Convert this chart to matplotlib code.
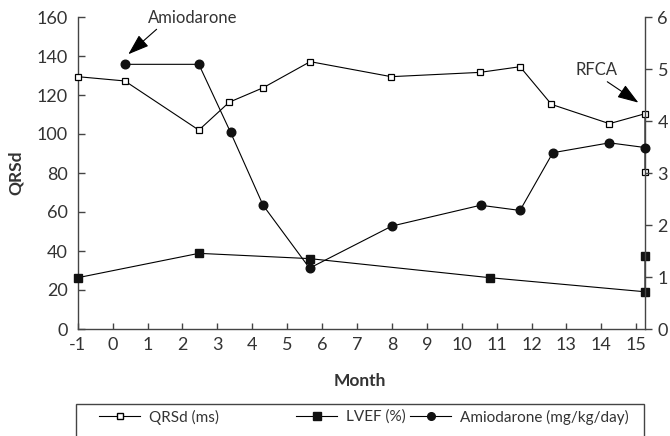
import matplotlib
matplotlib.use("Agg")
import matplotlib.pyplot as plt
from matplotlib.lines import Line2D
from matplotlib.patches import Rectangle

plt.rcParams['font.family'] = ['Lato', 'DejaVu Sans']
plt.rcParams['axes.unicode_minus'] = False

# ---- data ----
qrs_month = [-1, 0.35, 2.47, 3.34, 4.31, 5.66, 7.98, 10.52, 11.67, 12.57, 14.23, 15.25, 15.25]
qrs_val = [129.4, 127.2, 102, 116.3, 123.7, 137.1, 129.4, 131.6, 134.5, 115.2, 105.3, 110.4, 80.7]

lvef_month = [-1, 2.47, 5.64, 10.81, 15.25, 15.25]
lvef_val = [26.3, 38.8, 36.1, 26.3, 19.1, 37.4]

amio_month = [0.35, 2.47, 3.38, 4.31, 5.64, 8.0, 10.54, 11.67, 12.61, 14.23, 15.25]
amio_val = [5.09, 5.09, 3.78, 2.38, 1.17, 1.98, 2.38, 2.28, 3.39, 3.58, 3.49]

x_ticks = list(range(-1, 16))
left_ticks = [0, 20, 40, 60, 80, 100, 120, 140, 160]
right_ticks = [0, 1, 2, 3, 4, 5, 6]

W, H = 670, 436
fig = plt.figure(figsize=(W / 100, H / 100), dpi=100)
ax = fig.add_axes([77.7 / W, 1 - 329 / H, (645 - 77.7) / W, (329 - 17) / H])
ax2 = ax.twinx()

txt = '#333333'
spc = '#444444'

ax.plot(qrs_month, qrs_val, color='black', lw=0.8, marker='s', ms=5,
        mfc='white', mec='black', mew=0.9, clip_on=False, zorder=5)
ax.plot(lvef_month, lvef_val, color='black', lw=0.8, marker='s', ms=5.8,
        mfc='#111111', mec='#111111', clip_on=False, zorder=5)
ax2.plot(amio_month, amio_val, color='black', lw=0.8, marker='o', ms=6.2,
         mfc='#111111', mec='#111111', clip_on=False, zorder=5)

ax.set_xlim(-1, 15.25)
ax.set_ylim(0, 160)
ax2.set_ylim(0, 6)
ax.set_xticks(x_ticks)
ax.set_yticks(left_ticks)
ax2.set_yticks(right_ticks)

for a in (ax, ax2):
    a.spines['top'].set_visible(False)
    for s in ('left', 'right', 'bottom'):
        a.spines[s].set_color(spc)
        a.spines[s].set_linewidth(1.0)
ax.spines['right'].set_visible(False)
ax2.spines['left'].set_visible(False)
ax2.spines['bottom'].set_visible(False)

ax.tick_params(axis='y', direction='in', length=5, width=1, color=spc,
               labelsize=13, labelcolor=txt, pad=7)
ax.tick_params(axis='x', direction='in', length=4.5, width=1, color=spc,
               labelsize=13, labelcolor=txt, pad=6)
ax2.tick_params(axis='y', direction='out', length=5, width=1, color=spc,
                labelsize=13, labelcolor=txt, pad=4)

ax.set_ylabel('QRSd', fontsize=12.5, fontweight='bold', color=txt, labelpad=9)
fig.text(360 / W, 1 - 381 / H, 'Month', fontsize=12.5, fontweight='bold',
         color=txt, ha='center', va='center')

# annotations
arrow = dict(arrowstyle='-|>,head_length=1.3,head_width=0.45',
             color='black', lw=0.8, shrinkA=0, shrinkB=0)
ax.text(2.30, 159.5, 'Amiodarone', fontsize=12, color=txt, ha='center',
        va='center', clip_on=False)
ax.annotate('', xy=(0.45, 140.9), xytext=(1.26, 153.7), arrowprops=arrow)
ax.text(13.85, 132.8, 'RFCA', fontsize=12, color=txt, ha='center',
        va='center', clip_on=False)
ax.annotate('', xy=(15.06, 116.1), xytext=(14.17, 126.8), arrowprops=arrow)

# legend box (bottom edge runs off the figure)
fig.patches.append(Rectangle((76 / W, -0.05), (644 - 76) / W, 1 - 404 / H + 0.05,
                             transform=fig.transFigure, fill=False,
                             edgecolor=spc, lw=1.0))

handles = [
    Line2D([], [], color='black', lw=0.8, marker='s', ms=4.5, mfc='white', mec='black'),
    Line2D([], [], color='black', lw=0.8, marker='s', ms=5.5, mfc='#111111', mec='#111111'),
    Line2D([], [], color='black', lw=0.8, marker='o', ms=5.5, mfc='#111111', mec='#111111'),
]
labels = ['QRSd (ms)', 'LVEF (%)', 'Amiodarone (mg/kg/day)']
xs = [99, 296, 410]
for h, l, x in zip(handles, labels, xs):
    lg = fig.legend([h], [l], loc='center left', bbox_to_anchor=(x / W, 1 - 417 / H),
                    frameon=False, fontsize=11, handlelength=2.7,
                    handletextpad=0.6, borderpad=0, borderaxespad=0)
    for t in lg.get_texts():
        t.set_color(txt)

fig.savefig('out.png', dpi=100)
